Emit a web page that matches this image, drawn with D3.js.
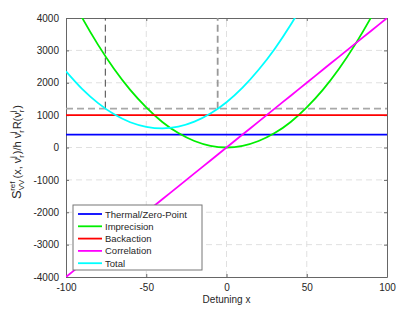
<!DOCTYPE html>
<html>
<head>
<meta charset="utf-8">
<script src="https://cdn.jsdelivr.net/npm/d3@7"></script>
<style>
body { margin: 0; background: #fff; }
text { font-family: "Liberation Sans", Arial, sans-serif; }
</style>
</head>
<body>
<div id="chart"></div>
<script>
// values
var detuning = [-100, -90, -80, -70, -60, -50, -40, -30, -20, -10, 0, 10, 20, 30, 40, 50, 60, 70, 80, 90, 100];
var thermal = [400, 400, 400, 400, 400, 400, 400, 400, 400, 400, 400, 400, 400, 400, 400, 400, 400, 400, 400, 400, 400];
var imprecision = [4950, 4010, 3170, 2425, 1780, 1240, 790, 445, 200, 50, 0, 50, 200, 445, 790, 1240, 1780, 2425, 3170, 4010, 4950];
var backaction = [1000, 1000, 1000, 1000, 1000, 1000, 1000, 1000, 1000, 1000, 1000, 1000, 1000, 1000, 1000, 1000, 1000, 1000, 1000, 1000, 1000];
var correlation = [-4000, -3600, -3200, -2800, -2400, -2000, -1600, -1200, -800, -400, 0, 400, 800, 1200, 1600, 2000, 2400, 2800, 3200, 3600, 4000];
var total = [2350, 1810, 1370, 1025, 780, 640, 590, 645, 800, 1050, 1400, 1850, 2400, 3045, 3790, 4640, 5580, 6625, 7770, 9010, 10350];
var seriesNames = ["Thermal/Zero-Point", "Imprecision", "Backaction", "Correlation", "Total"];
var seriesColors = ["#0000ff", "#00ee00", "#ff0000", "#ff00ff", "#00ffff"];
var xTicks = [-100, -50, 0, 50, 100];
var yTicks = [-4000, -3000, -2000, -1000, 0, 1000, 2000, 3000, 4000];
var threshold = 1200;
var markX = [-75.5, -5.5];

var width = 415, height = 314;
var margin = {left: 66, right: 28, top: 18, bottom: 37};

var svg = d3.select("#chart").append("svg").attr("width", width).attr("height", height);

var x = d3.scaleLinear().domain([-100, 100]).range([margin.left, width - margin.right]);
var y = d3.scaleLinear().domain([-4000, 4000]).range([height - margin.bottom, margin.top]);

svg.append("clipPath").attr("id", "clip").append("rect")
  .attr("x", margin.left).attr("y", margin.top)
  .attr("width", x(100) - x(-100)).attr("height", y(-4000) - y(4000));

// grid
svg.append("g").selectAll("line").data(xTicks.slice(1, -1)).enter().append("line")
  .attr("x1", d => x(d)).attr("x2", d => x(d)).attr("y1", y(-4000)).attr("y2", y(4000))
  .attr("stroke", "#e0e0e0").attr("stroke-dasharray", "6,4").attr("stroke-width", 1);
svg.append("g").selectAll("line").data(yTicks.slice(1, -1)).enter().append("line")
  .attr("x1", x(-100)).attr("x2", x(100)).attr("y1", d => y(d)).attr("y2", d => y(d))
  .attr("stroke", "#e0e0e0").attr("stroke-dasharray", "6,4").attr("stroke-width", 1);

// axes
var fmt = d => String(d);
svg.append("g").attr("transform", "translate(0," + y(-4000) + ")")
  .call(d3.axisBottom(x).tickValues(xTicks).tickFormat(fmt).tickSizeInner(-3).tickSizeOuter(0).tickPadding(7));
svg.append("g").attr("transform", "translate(" + x(-100) + ",0)")
  .call(d3.axisLeft(y).tickValues(yTicks).tickFormat(fmt).tickSizeInner(-3).tickSizeOuter(0).tickPadding(7));
svg.append("g").attr("transform", "translate(0," + y(4000) + ")")
  .call(d3.axisTop(x).tickValues(xTicks).tickSizeInner(-3).tickSizeOuter(0).tickFormat(""));
svg.append("g").attr("transform", "translate(" + x(100) + ",0)")
  .call(d3.axisRight(y).tickValues(yTicks).tickSizeInner(-3).tickSizeOuter(0).tickFormat(""));
svg.selectAll(".domain, .tick line").attr("stroke", "#666");
svg.selectAll(".tick text").attr("fill", "#262626").style("font-size", "10px").style("font-family", "Liberation Sans, Arial, sans-serif");

// curves
var allSeries = [thermal, imprecision, backaction, correlation, total];
var line = d3.line().x((d, i) => x(detuning[i])).y(d => y(d)).curve(d3.curveMonotoneX);
var plot = svg.append("g").attr("clip-path", "url(#clip)");

// dashed threshold lines
plot.append("line").attr("x1", x(-100)).attr("x2", x(100)).attr("y1", y(threshold)).attr("y2", y(threshold))
  .attr("stroke", "#a8a8a8").attr("stroke-width", 1.8).attr("stroke-dasharray", "7,4");
plot.append("line").attr("x1", x(markX[0])).attr("x2", x(markX[0])).attr("y1", y(threshold)).attr("y2", y(4000))
  .attr("stroke", "#444").attr("stroke-width", 1).attr("stroke-dasharray", "7,4");
plot.append("line").attr("x1", x(markX[1])).attr("x2", x(markX[1])).attr("y1", y(threshold)).attr("y2", y(4000))
  .attr("stroke", "#999").attr("stroke-width", 1.8).attr("stroke-dasharray", "7,4");

plot.selectAll("path.series").data(allSeries).enter().append("path").attr("class", "series")
  .attr("d", d => line(d)).attr("fill", "none")
  .attr("stroke", (d, i) => seriesColors[i]).attr("stroke-width", 1.8);

// labels
svg.append("text").attr("x", x(0)).attr("y", 303).attr("text-anchor", "middle")
  .attr("fill", "#262626").style("font-size", "10px").text("Detuning x");

var yl = svg.append("text").attr("transform", "translate(21,152) rotate(-90)")
  .attr("text-anchor", "middle").attr("fill", "#262626").style("font-size", "11px");
function subSup(sub, sup, w) {
  yl.append("tspan").attr("dy", 3).style("font-size", "8px").text(sub);
  yl.append("tspan").attr("dx", -w).attr("dy", -9).style("font-size", "8px").text(sup);
}
yl.append("tspan").style("font-size", "13px").text("S");
subSup("VV", "ref", 11);
yl.append("tspan").attr("dy", 6).text(" (x, ν");
subSup("r", "j", 3);
yl.append("tspan").attr("dy", 6).attr("dx", 2).text(")/h ν");
subSup("r", "j", 3);
yl.append("tspan").attr("dy", 6).attr("dx", 2).text("R(ν");
subSup("r", "j", 3);
yl.append("tspan").attr("dy", 6).attr("dx", 2).text(")");

// legend
var lg = svg.append("g").attr("transform", "translate(73,205)");
lg.append("rect").attr("width", 129).attr("height", 65).attr("fill", "#fff").attr("stroke", "#777").attr("stroke-width", 1);
var items = lg.selectAll("g.item").data(seriesNames).enter().append("g").attr("class", "item")
  .attr("transform", (d, i) => "translate(0," + (9 + i * 12.3) + ")");
items.append("line").attr("x1", 5).attr("x2", 29).attr("stroke", (d, i) => seriesColors[i]).attr("stroke-width", 1.8);
items.append("text").attr("x", 32).attr("y", 3.5).attr("fill", "#262626").style("font-size", "9.5px").text(d => d);
</script>
</body>
</html>
